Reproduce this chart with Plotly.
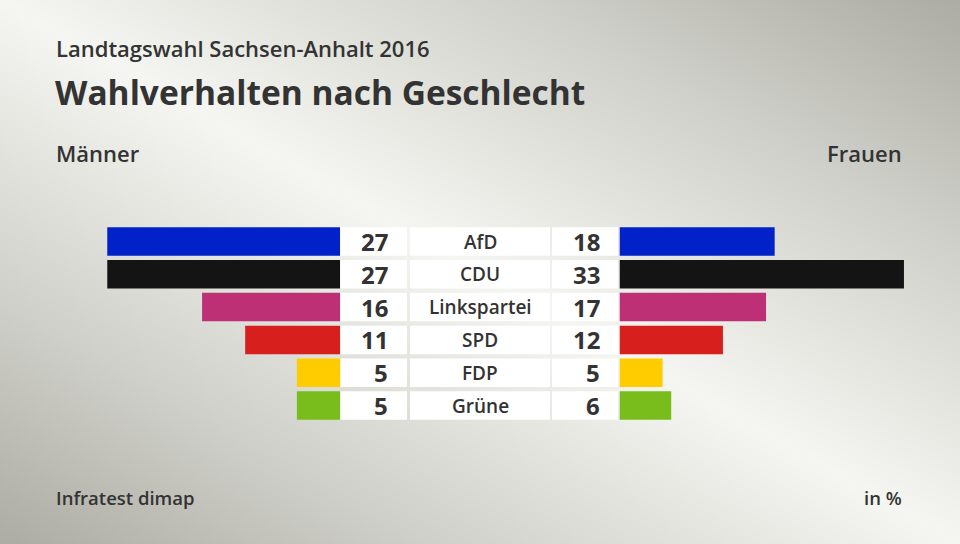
import base64
import plotly.graph_objects as go

# ---- data ----
parties = ["AfD", "CDU", "Linkspartei", "SPD", "FDP", "Grüne"]
maenner = [27, 27, 16, 11, 5, 5]
frauen = [18, 33, 17, 12, 5, 6]
colors = ["#0022c8", "#141414", "#bd3075", "#d71f1e", "#ffcc00", "#78bd1b"]

W, H = 960, 544
PX_PER_UNIT = 8.62
TXT = "#333333"
FONT = "Open Sans"

# background gradient as svg
svg = f'''<svg xmlns="http://www.w3.org/2000/svg" width="{W}" height="{H}" preserveAspectRatio="none" viewBox="0 0 {W} {H}">
<defs><linearGradient id="g" x1="1" y1="0" x2="0" y2="1">
<stop offset="0" stop-color="#acaca4"/>
<stop offset="0.22" stop-color="#cfcfc9"/>
<stop offset="0.5" stop-color="#f5f6f1"/>
<stop offset="0.78" stop-color="#cfcfc9"/>
<stop offset="1" stop-color="#acaca4"/>
</linearGradient></defs>
<rect width="{W}" height="{H}" fill="url(#g)"/></svg>'''
bg = "data:image/svg+xml;base64," + base64.b64encode(svg.encode()).decode()

left_edge = 340.0
right_edge = 619.5

fig = go.Figure()
fig.add_trace(go.Bar(
    y=parties, x=maenner, orientation="h", marker=dict(color=colors, line=dict(width=0)),
    xaxis="x", yaxis="y", hoverinfo="skip", showlegend=False))
fig.add_trace(go.Bar(
    y=parties, x=frauen, orientation="h", marker=dict(color=colors, line=dict(width=0)),
    xaxis="x2", yaxis="y", hoverinfo="skip", showlegend=False))

# y layout: row centers from 241.5 px with pitch 32.8 px
top_px = 241.5 - 16.4
bot_px = 241.5 + 5 * 32.8 + 16.4

shapes = []
annotations = []
for i, p in enumerate(parties):
    for x0, x1 in [(340.5, 407), (410, 550), (552, 618)]:
        shapes.append(dict(type="rect", xref="paper", yref="y",
                           x0=x0 / W, x1=x1 / W, y0=i - 0.435, y1=i + 0.435,
                           fillcolor="#ffffff", line=dict(width=0), layer="below"))
    annotations.append(dict(x=389 / W, y=p, xref="paper", yref="y", text=str(maenner[i]),
                            xanchor="right", yanchor="middle", showarrow=False, borderpad=0,
                            font=dict(family=FONT, size=24, color=TXT, weight="bold")))
    annotations.append(dict(x=601 / W, y=p, xref="paper", yref="y", text=str(frauen[i]),
                            xanchor="right", yanchor="middle", showarrow=False, borderpad=0,
                            font=dict(family=FONT, size=24, color=TXT, weight="bold")))
    annotations.append(dict(x=480 / W, y=p, xref="paper", yref="y", text=p,
                            xanchor="center", yanchor="middle", showarrow=False, borderpad=0,
                            font=dict(family=FONT, size=19, color=TXT, weight=600)))

def t(x, y, text, size, weight, anchor="left"):
    annotations.append(dict(x=x / W, y=1 - y / H, xref="paper", yref="paper", text=text,
                            xanchor=anchor, yanchor="middle", showarrow=False,
                            font=dict(family=FONT, size=size, color=TXT, weight=weight)))

t(54, 48, "Landtagswahl Sachsen-Anhalt 2016", 22, 600)
t(53, 92, "Wahlverhalten nach Geschlecht", 33.5, "bold")
t(54, 153, "Männer", 22, 600)
t(904, 153, "Frauen", 22, 600, "right")
t(54, 497, "Infratest dimap", 18.5, 600)
t(904, 497, "in %", 18.5, 600, "right")

fig.update_layout(
    width=W, height=H, margin=dict(l=0, r=0, t=0, b=0),
    paper_bgcolor="#e0e0da", plot_bgcolor="rgba(0,0,0,0)",
    bargap=0.13,
    images=[dict(source=bg, xref="paper", yref="paper", x=0, y=1, sizex=1, sizey=1,
                 sizing="stretch", layer="below", xanchor="left", yanchor="top")],
    xaxis=dict(domain=[0, left_edge / W], range=[left_edge / PX_PER_UNIT, 0],
               visible=False, fixedrange=True),
    xaxis2=dict(domain=[right_edge / W, 1], range=[0, (W - right_edge) / PX_PER_UNIT],
                visible=False, fixedrange=True),
    yaxis=dict(domain=[1 - bot_px / H, 1 - top_px / H], range=[5.5, -0.5],
               type="category", categoryarray=parties, visible=False, fixedrange=True),
    shapes=shapes, annotations=annotations,
)

fig.write_html("out.html", config={"displayModeBar": False},
               post_script="document.body.style.margin='0';document.body.style.padding='0';")
